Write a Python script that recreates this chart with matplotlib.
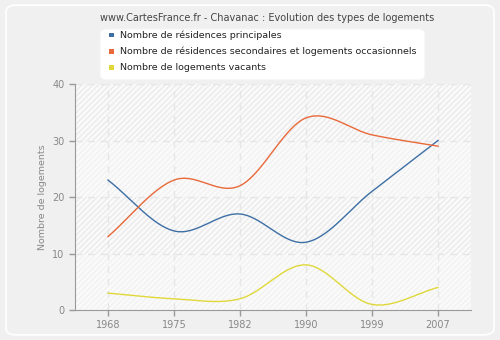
import numpy as np
import matplotlib
matplotlib.use("Agg")
import matplotlib.pyplot as plt
from matplotlib.patches import FancyBboxPatch, Rectangle

years = ["1968", "1975", "1982", "1990", "1999", "2007"]
principales = [23, 14, 17, 12, 21, 30]
secondaires = [13, 23, 22, 34, 31, 29]
vacants = [3, 2, 2, 8, 1, 4]

labels = ["Nombre de résidences principales",
          "Nombre de résidences secondaires et logements occasionnels",
          "Nombre de logements vacants"]
colors = ["#3d6fa5", "#e8693a", "#e0d83a"]
title = "www.CartesFrance.fr - Chavanac : Evolution des types de logements"


def catmull(y, n=40):
    y = np.asarray(y, float)
    x = np.arange(len(y), dtype=float)
    m = np.zeros_like(y)
    m[1:-1] = (y[2:] - y[:-2]) / 2
    m[0] = y[1] - y[0]
    m[-1] = y[-1] - y[-2]
    xs, ys = [], []
    for i in range(len(y) - 1):
        t = np.linspace(0, 1, n, endpoint=(i == len(y) - 2))
        h00 = 2*t**3 - 3*t**2 + 1
        h10 = t**3 - 2*t**2 + t
        h01 = -2*t**3 + 3*t**2
        h11 = t**3 - t**2
        xs.append(x[i] + t)
        ys.append(h00*y[i] + h10*m[i] + h01*y[i+1] + h11*m[i+1])
    return np.concatenate(xs), np.concatenate(ys)


fig = plt.figure(figsize=(5, 3.4), dpi=100)
fig.patch.set_facecolor("#f0f0f0")
fig.patches.append(FancyBboxPatch((0.012, 0.015), 0.976, 0.97,
                                  boxstyle="round,pad=0,rounding_size=0.02",
                                  transform=fig.transFigure, facecolor="#f0f0f0",
                                  edgecolor="#ffffff", linewidth=1.2, zorder=-1))

ax = fig.add_axes([0.15, 0.088, 0.792, 0.665])
ax.set_facecolor("#fafafa")
ax.set_xlim(-0.5, 5.5)
ax.set_ylim(0, 40)

for lo, hatch_col in [(0, "#f2f2f2"), (10, "#ebebeb"), (20, "#f2f2f2"), (30, "#ebebeb")]:
    ax.add_patch(Rectangle((-0.5, lo), 6, 10, facecolor="#fafafa",
                           edgecolor=hatch_col, hatch="//////", linewidth=0, zorder=0))

for yv in [10, 20, 30, 40]:
    ax.axhline(yv, color="#e6e6e6", linestyle=(0, (5, 4)), linewidth=1, zorder=1)
for xv in range(len(years)):
    ax.axvline(xv, color="#e6e6e6", linestyle=(0, (5, 4)), linewidth=1, zorder=1)

for data, c in zip([principales, secondaires, vacants], colors):
    xs, ys = catmull(data)
    ax.plot(xs, ys, color=c, linewidth=1, zorder=3)

ax.set_xticks(range(len(years)))
ax.set_xticklabels(years)
ax.set_yticks([0, 10, 20, 30, 40])
ax.tick_params(colors="#999999", labelcolor="#888888", labelsize=7, length=4, width=1)
for s in ["top", "right"]:
    ax.spines[s].set_visible(False)
for s in ["left", "bottom"]:
    ax.spines[s].set_color("#999999")
ax.set_ylabel("Nombre de logements", color="#888888", fontsize=6.8)

fig.text(0.534, 0.947, title, ha="center", va="center", fontsize=7, color="#444444")

# legend box
fig.patches.append(FancyBboxPatch((0.2, 0.765), 0.65, 0.15,
                                  boxstyle="round,pad=0,rounding_size=0.015",
                                  transform=fig.transFigure, facecolor="white",
                                  edgecolor="#f4f4f4", linewidth=0.8, zorder=1))
for i, (lab, c) in enumerate(zip(labels, colors)):
    yy = 0.897 - i * 0.048
    fig.patches.append(Rectangle((0.218, yy - 0.0065), 0.009, 0.013,
                                 transform=fig.transFigure, facecolor=c,
                                 edgecolor="none", zorder=2))
    fig.text(0.24, yy, lab, ha="left", va="center", fontsize=6.8, color="#222222")

fig.savefig("out.png", dpi=100, facecolor=fig.get_facecolor())
